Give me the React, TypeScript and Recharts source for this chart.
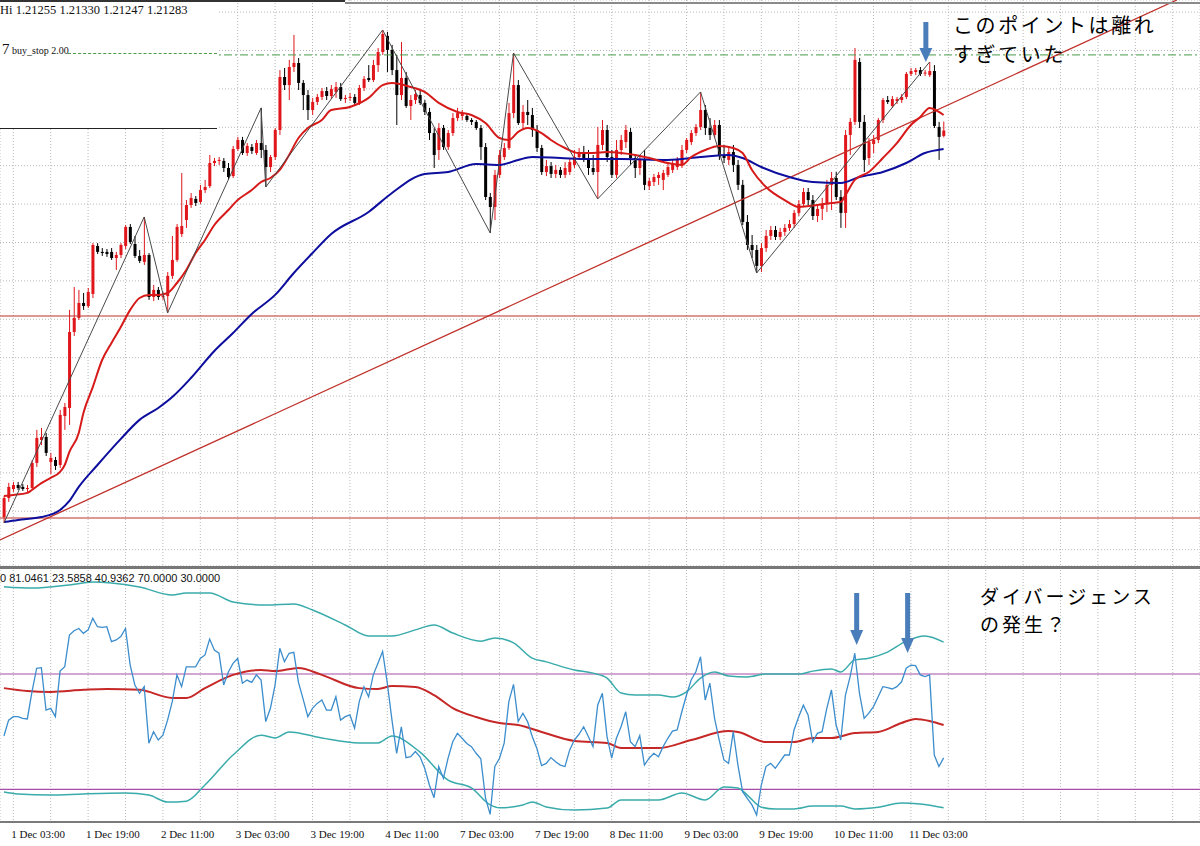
import React from 'react';
import { ComposedChart, Bar, Line, XAxis, YAxis, CartesianGrid, ReferenceLine, ReferenceDot } from 'recharts';

// ---- axis / scale values ----
const X_MIN = -0.845;
const X_MAX = 255.84;
const P_MIN = 1.19015;
const P_MAX = 1.21963;
const RSI_MIN = 18.67;
const RSI_MAX = 106.07;

const gridIdx = [2, 10, 18, 26, 34, 42, 50, 58, 66, 74, 82, 90, 98, 106, 114, 122, 130, 138, 146, 154, 162, 170, 178, 186, 194, 202, 210, 218, 226, 234, 242, 250];
const gridPrices = [1.219, 1.217, 1.215, 1.213, 1.211, 1.209, 1.207, 1.205, 1.203, 1.201, 1.199, 1.197, 1.195, 1.193, 1.191];
const labelIdx = [2, 18, 34, 50, 66, 82, 98, 114, 130, 146, 162, 178, 194];
const xLabels = ['1 Dec 03:00', '1 Dec 19:00', '2 Dec 11:00', '3 Dec 03:00', '3 Dec 19:00', '4 Dec 11:00', '7 Dec 03:00', '7 Dec 19:00', '8 Dec 11:00', '9 Dec 03:00', '9 Dec 19:00', '10 Dec 11:00', '11 Dec 03:00'];

// ---- EURUSD H1 candles [open, high, low, close] ----
const candles: number[][] = [
  [1.19270, 1.19380, 1.19239, 1.19369], [1.19369, 1.19448, 1.19349, 1.19427], [1.19416, 1.19453, 1.19401, 1.19437], [1.19437, 1.19453, 1.19411, 1.19421],
  [1.19427, 1.19442, 1.19406, 1.19416], [1.19416, 1.19437, 1.19401, 1.19421], [1.19421, 1.19567, 1.19411, 1.19552], [1.19552, 1.19724, 1.19531, 1.19682],
  [1.19671, 1.19734, 1.19645, 1.19687], [1.19687, 1.19708, 1.19588, 1.19604], [1.19557, 1.19604, 1.19494, 1.19578], [1.19567, 1.19583, 1.19515, 1.19536],
  [1.19541, 1.19828, 1.19526, 1.19802], [1.19796, 1.19864, 1.19724, 1.19843], [1.19838, 1.20349, 1.19750, 1.20234], [1.20234, 1.20468, 1.20213, 1.20307],
  [1.20307, 1.20453, 1.20296, 1.20385], [1.20385, 1.20437, 1.20349, 1.20369], [1.20369, 1.20463, 1.20359, 1.20442], [1.20432, 1.20697, 1.20411, 1.20687],
  [1.20682, 1.20697, 1.20640, 1.20651], [1.20651, 1.20671, 1.20630, 1.20645], [1.20651, 1.20666, 1.20625, 1.20640], [1.20651, 1.20671, 1.20609, 1.20619],
  [1.20619, 1.20651, 1.20557, 1.20635], [1.20635, 1.20697, 1.20619, 1.20687], [1.20682, 1.20791, 1.20666, 1.20781], [1.20781, 1.20796, 1.20692, 1.20703],
  [1.20692, 1.20734, 1.20619, 1.20630], [1.20630, 1.20661, 1.20593, 1.20604], [1.20599, 1.20833, 1.20583, 1.20635], [1.20635, 1.20645, 1.20401, 1.20416],
  [1.20416, 1.20479, 1.20395, 1.20453], [1.20453, 1.20468, 1.20401, 1.20416], [1.20416, 1.20442, 1.20401, 1.20421], [1.20421, 1.20546, 1.20333, 1.20526],
  [1.20526, 1.20734, 1.20510, 1.20609], [1.20609, 1.20796, 1.20599, 1.20781], [1.20744, 1.21062, 1.20729, 1.20786], [1.20817, 1.20921, 1.20776, 1.20895],
  [1.20895, 1.20958, 1.20880, 1.20932], [1.20927, 1.20942, 1.20890, 1.20906], [1.20911, 1.21000, 1.20901, 1.20973], [1.20973, 1.21026, 1.20958, 1.20989],
  [1.20994, 1.21156, 1.20984, 1.21114], [1.21114, 1.21140, 1.21098, 1.21125], [1.21125, 1.21145, 1.21104, 1.21130], [1.21125, 1.21140, 1.21067, 1.21088],
  [1.21088, 1.21114, 1.21026, 1.21041], [1.21046, 1.21203, 1.21036, 1.21187], [1.21187, 1.21250, 1.21177, 1.21234], [1.21234, 1.21250, 1.21156, 1.21166],
  [1.21166, 1.21218, 1.21151, 1.21203], [1.21197, 1.21213, 1.21161, 1.21177], [1.21166, 1.21234, 1.21156, 1.21218], [1.21218, 1.21401, 1.21140, 1.21182],
  [1.21182, 1.21208, 1.20989, 1.21093], [1.21093, 1.21156, 1.21067, 1.21145], [1.21145, 1.21296, 1.21130, 1.21286], [1.21286, 1.21598, 1.21260, 1.21562],
  [1.21562, 1.21609, 1.21494, 1.21520], [1.21520, 1.21651, 1.21442, 1.21614], [1.21614, 1.21781, 1.21588, 1.21635], [1.21635, 1.21661, 1.21494, 1.21531],
  [1.21531, 1.21546, 1.21390, 1.21468], [1.21468, 1.21494, 1.21338, 1.21390], [1.21390, 1.21453, 1.21364, 1.21432], [1.21432, 1.21473, 1.21416, 1.21458],
  [1.21458, 1.21505, 1.21442, 1.21489], [1.21489, 1.21510, 1.21442, 1.21463], [1.21463, 1.21520, 1.21447, 1.21499], [1.21484, 1.21536, 1.21453, 1.21510],
  [1.21510, 1.21531, 1.21437, 1.21447], [1.21447, 1.21468, 1.21427, 1.21453], [1.21453, 1.21479, 1.21437, 1.21458], [1.21458, 1.21473, 1.21416, 1.21427],
  [1.21427, 1.21520, 1.21416, 1.21505], [1.21505, 1.21567, 1.21489, 1.21552], [1.21557, 1.21624, 1.21536, 1.21546], [1.21546, 1.21651, 1.21536, 1.21624],
  [1.21624, 1.21713, 1.21588, 1.21692], [1.21692, 1.21807, 1.21677, 1.21786], [1.21776, 1.21797, 1.21588, 1.21703], [1.21703, 1.21729, 1.21572, 1.21598],
  [1.21598, 1.21677, 1.21312, 1.21468], [1.21468, 1.21744, 1.21442, 1.21557], [1.21557, 1.21588, 1.21401, 1.21411], [1.21411, 1.21468, 1.21338, 1.21442],
  [1.21442, 1.21494, 1.21421, 1.21473], [1.21468, 1.21494, 1.21416, 1.21427], [1.21427, 1.21442, 1.21364, 1.21380], [1.21380, 1.21401, 1.21234, 1.21270],
  [1.21270, 1.21296, 1.21088, 1.21156], [1.21182, 1.21322, 1.21130, 1.21296], [1.21296, 1.21312, 1.21182, 1.21197], [1.21197, 1.21286, 1.21182, 1.21270],
  [1.21270, 1.21374, 1.21255, 1.21348], [1.21348, 1.21401, 1.21333, 1.21374], [1.21359, 1.21390, 1.21338, 1.21369], [1.21359, 1.21369, 1.21328, 1.21338],
  [1.21338, 1.21348, 1.21312, 1.21328], [1.21328, 1.21338, 1.21286, 1.21296], [1.21296, 1.21312, 1.21130, 1.21197], [1.21197, 1.21218, 1.20921, 1.20937],
  [1.20937, 1.20958, 1.20750, 1.20885], [1.20885, 1.21078, 1.20817, 1.21052], [1.21052, 1.21182, 1.21036, 1.21156], [1.21145, 1.21218, 1.21130, 1.21192],
  [1.21192, 1.21427, 1.21182, 1.21374], [1.21374, 1.21687, 1.21348, 1.21520], [1.21520, 1.21546, 1.21312, 1.21322], [1.21322, 1.21416, 1.21286, 1.21380],
  [1.21380, 1.21442, 1.21312, 1.21364], [1.21364, 1.21401, 1.21250, 1.21286], [1.21286, 1.21312, 1.21171, 1.21192], [1.21192, 1.21208, 1.21052, 1.21067],
  [1.21067, 1.21130, 1.21046, 1.21098], [1.21098, 1.21119, 1.21036, 1.21057], [1.21057, 1.21104, 1.21036, 1.21078], [1.21078, 1.21093, 1.21036, 1.21052],
  [1.21052, 1.21119, 1.21036, 1.21088], [1.21067, 1.21140, 1.21052, 1.21119], [1.21104, 1.21182, 1.21088, 1.21145], [1.21145, 1.21192, 1.21130, 1.21171],
  [1.21171, 1.21203, 1.21119, 1.21140], [1.21140, 1.21182, 1.21052, 1.21088], [1.21088, 1.21156, 1.21052, 1.21067], [1.21067, 1.21302, 1.20927, 1.21208],
  [1.21208, 1.21338, 1.21182, 1.21286], [1.21286, 1.21312, 1.21119, 1.21145], [1.21145, 1.21182, 1.21036, 1.21052], [1.21052, 1.21234, 1.21036, 1.21182],
  [1.21182, 1.21260, 1.21156, 1.21234], [1.21223, 1.21312, 1.21192, 1.21286], [1.21276, 1.21296, 1.21104, 1.21140], [1.21140, 1.21156, 1.21036, 1.21088],
  [1.21088, 1.21156, 1.21052, 1.21130], [1.21130, 1.21182, 1.20973, 1.21000], [1.20994, 1.21036, 1.20973, 1.21020], [1.21015, 1.21057, 1.20994, 1.21041],
  [1.21036, 1.21067, 1.21000, 1.21052], [1.21026, 1.21078, 1.20973, 1.21062], [1.21052, 1.21114, 1.21041, 1.21093], [1.21078, 1.21130, 1.21062, 1.21114],
  [1.21093, 1.21145, 1.21078, 1.21130], [1.21104, 1.21208, 1.21088, 1.21182], [1.21182, 1.21244, 1.21166, 1.21234], [1.21223, 1.21286, 1.21208, 1.21270],
  [1.21270, 1.21317, 1.21255, 1.21302], [1.21302, 1.21484, 1.21286, 1.21390], [1.21390, 1.21416, 1.21260, 1.21296], [1.21296, 1.21348, 1.21234, 1.21260],
  [1.21260, 1.21338, 1.21244, 1.21312], [1.21312, 1.21338, 1.21130, 1.21156], [1.21156, 1.21208, 1.21114, 1.21140], [1.21130, 1.21192, 1.21104, 1.21171],
  [1.21171, 1.21208, 1.21067, 1.21104], [1.21104, 1.21130, 1.20973, 1.21000], [1.21000, 1.21026, 1.20791, 1.20807], [1.20807, 1.20843, 1.20661, 1.20687],
  [1.20687, 1.20739, 1.20619, 1.20661], [1.20661, 1.20687, 1.20541, 1.20578], [1.20578, 1.20697, 1.20546, 1.20671], [1.20671, 1.20765, 1.20651, 1.20734],
  [1.20734, 1.20786, 1.20713, 1.20765], [1.20765, 1.20786, 1.20713, 1.20729], [1.20729, 1.20776, 1.20713, 1.20755], [1.20755, 1.20796, 1.20734, 1.20776],
  [1.20776, 1.20817, 1.20760, 1.20796], [1.20796, 1.20869, 1.20776, 1.20854], [1.20854, 1.20921, 1.20838, 1.20901], [1.20901, 1.20984, 1.20890, 1.20963],
  [1.20963, 1.20984, 1.20895, 1.20921], [1.20921, 1.20947, 1.20817, 1.20838], [1.20838, 1.20895, 1.20807, 1.20875], [1.20875, 1.20932, 1.20817, 1.20901],
  [1.20901, 1.21026, 1.20859, 1.21000], [1.21000, 1.21067, 1.20869, 1.21036], [1.21036, 1.21067, 1.20921, 1.20937], [1.20937, 1.20973, 1.20776, 1.20854],
  [1.20854, 1.21286, 1.20776, 1.21260], [1.21260, 1.21348, 1.21156, 1.21328], [1.21328, 1.21713, 1.21312, 1.21651], [1.21640, 1.21661, 1.21296, 1.21328],
  [1.21328, 1.21364, 1.21067, 1.21130], [1.21140, 1.21244, 1.21104, 1.21223], [1.21213, 1.21260, 1.21166, 1.21234], [1.21234, 1.21348, 1.21218, 1.21338],
  [1.21338, 1.21453, 1.21322, 1.21442], [1.21442, 1.21463, 1.21421, 1.21432], [1.21411, 1.21463, 1.21401, 1.21447], [1.21437, 1.21458, 1.21421, 1.21447],
  [1.21442, 1.21473, 1.21427, 1.21458], [1.21458, 1.21588, 1.21447, 1.21578], [1.21578, 1.21609, 1.21567, 1.21593], [1.21588, 1.21609, 1.21572, 1.21598],
  [1.21598, 1.21614, 1.21567, 1.21578], [1.21583, 1.21598, 1.21567, 1.21585], [1.21572, 1.21640, 1.21562, 1.21593], [1.21593, 1.21624, 1.21296, 1.21307],
  [1.21302, 1.21328, 1.21130, 1.21250], [1.21255, 1.21330, 1.21247, 1.21283],
];

// ---- moving averages on price [candle index, price] ----
const fastMa: number[][] = [
  [0, 1.19380], [2, 1.19385], [5, 1.19396], [6, 1.19411], [8, 1.19447], [10, 1.19474], [12, 1.19505], [13, 1.19541], [14, 1.19609], [16, 1.19708],
  [17, 1.19812], [19, 1.19947], [21, 1.20088], [23, 1.20177], [25, 1.20260], [27, 1.20349], [29, 1.20411], [31, 1.20427], [33, 1.20427], [35, 1.20437],
  [37, 1.20489], [39, 1.20557], [41, 1.20645], [43, 1.20713], [45, 1.20791], [48, 1.20869], [50, 1.20921], [53, 1.20973], [55, 1.21015], [57, 1.21036],
  [59, 1.21078], [61, 1.21156], [63, 1.21244], [65, 1.21296], [68, 1.21338], [70, 1.21390], [74, 1.21406], [78, 1.21453], [81, 1.21520], [83, 1.21531],
  [87, 1.21510], [90, 1.21484], [93, 1.21427], [97, 1.21380], [100, 1.21364], [103, 1.21322], [106, 1.21244], [108, 1.21234], [110, 1.21276], [112, 1.21296],
  [115, 1.21270], [117, 1.21234], [120, 1.21192], [123, 1.21166], [126, 1.21166], [129, 1.21171], [132, 1.21166], [135, 1.21156], [138, 1.21140], [142, 1.21114],
  [145, 1.21104], [147, 1.21145], [150, 1.21182], [153, 1.21203], [156, 1.21192], [158, 1.21166], [160, 1.21078], [163, 1.20989], [167, 1.20921], [170, 1.20885],
  [174, 1.20895], [177, 1.20906], [179, 1.20911], [180, 1.20947], [182, 1.21026], [185, 1.21067], [188, 1.21140], [191, 1.21218], [194, 1.21312], [196, 1.21354],
  [198, 1.21401], [200, 1.21380], [201, 1.21364],
];
const slowMa: number[][] = [
  [0, 1.19244], [3, 1.19255], [8, 1.19270], [12, 1.19307], [14, 1.19354], [16, 1.19427], [20, 1.19541], [25, 1.19677], [29, 1.19776], [33, 1.19838],
  [36, 1.19895], [40, 1.19994], [45, 1.20135], [49, 1.20229], [53, 1.20328], [58, 1.20427], [62, 1.20541], [66, 1.20645], [70, 1.20744], [78, 1.20859],
  [83, 1.20958], [90, 1.21057], [95, 1.21067], [101, 1.21109], [106, 1.21104], [110, 1.21130], [113, 1.21145], [119, 1.21140], [125, 1.21135], [132, 1.21135],
  [142, 1.21130], [149, 1.21145], [155, 1.21156], [158, 1.21140], [162, 1.21093], [168, 1.21041], [173, 1.21015], [179, 1.21010], [183, 1.21041], [188, 1.21067],
  [193, 1.21114], [197, 1.21166], [201, 1.21187],
];
const zigzag: number[][] = [
  [0, 1.19239], [30, 1.20833], [35, 1.20333], [55, 1.21401], [56, 1.20989], [81, 1.21807], [104, 1.20750], [109, 1.21687], [127, 1.20927], [149, 1.21484],
  [161, 1.20541], [198, 1.21640],
];
const supportHigh = 1.20317;
const supportLow = 1.19265;
const buyStopPrice = 1.21677;
const trendStart = [-0.845, 1.19151];
const trendEnd = [250.9, 1.21963];

// ---- RSI panel ----
const rsiValues = [
  48.5, 54.0, 55.2, 55.2, 54.6, 54.4, 63.9, 72.0, 72.2, 57.5, 58.1, 55.2, 71.0, 72.5, 83.5, 85.0, 85.8, 84.1, 85.3, 89.3,
  86.4, 86.2, 86.4, 81.2, 81.8, 83.0, 85.8, 73.1, 66.2, 63.3, 65.6, 46.0, 50.0, 47.1, 48.8, 54.0, 60.4, 69.7, 65.6, 72.5,
  72.5, 72.5, 75.4, 76.6, 82.1, 78.3, 77.2, 66.2, 70.7, 73.7, 75.4, 66.8, 67.9, 67.1, 69.7, 67.9, 53.5, 58.1, 66.2, 78.9,
  74.3, 77.2, 77.5, 67.1, 61.3, 55.2, 58.1, 59.8, 61.0, 57.5, 57.5, 62.1, 54.0, 55.2, 55.8, 51.2, 60.4, 65.6, 62.1, 69.7,
  73.7, 77.8, 66.8, 54.0, 42.5, 51.7, 41.0, 41.3, 43.1, 41.3, 37.3, 31.5, 27.1, 37.9, 33.8, 40.8, 46.5, 49.4, 47.7, 45.9,
  44.8, 42.5, 40.6, 27.0, 21.3, 37.9, 40.8, 46.0, 60.4, 66.4, 53.5, 56.4, 53.5, 48.3, 44.2, 38.2, 39.0, 41.0, 39.6, 38.4,
  37.9, 43.6, 47.1, 49.1, 51.7, 48.3, 44.8, 59.2, 63.3, 48.3, 40.8, 47.7, 51.7, 56.9, 46.5, 44.8, 48.6, 38.4, 40.8, 42.5,
  41.3, 44.8, 47.7, 50.2, 50.6, 56.9, 62.7, 67.9, 70.8, 76.0, 61.0, 66.8, 54.6, 47.1, 40.2, 39.0, 50.0, 38.4, 29.2, 26.9,
  24.6, 21.1, 31.5, 37.9, 39.0, 37.3, 39.6, 41.9, 41.9, 50.6, 55.2, 59.2, 55.8, 46.5, 49.4, 50.0, 58.0, 64.5, 52.3, 47.1,
  62.7, 69.1, 77.2, 63.3, 54.6, 56.4, 58.7, 62.1, 65.6, 65.3, 64.8, 65.6, 67.3, 72.0, 73.1, 72.9, 69.7, 69.1, 69.7, 41.9,
  37.9, 40.9,
];
const upperBand: number[][] = [
  [0, 100.3], [6, 99.8], [14, 100.9], [19, 101.9], [23, 101.6], [29, 100.2], [36, 97.4], [39, 98.1], [44, 98.1], [49, 95.0],
  [56, 93.9], [62, 94.3], [66, 92.2], [73, 87.0], [78, 83.2], [83, 83.2], [88, 85.3], [92, 87.0], [96, 84.2], [102, 81.4],
  [105, 82.5], [109, 80.8], [113, 75.5], [116, 74.2], [122, 71.4], [126, 70.3], [129, 68.6], [132, 63.4], [135, 62.7], [140, 62.7],
  [143, 62.0], [146, 63.8], [149, 68.6], [152, 70.7], [155, 69.3], [159, 69.0], [163, 70.0], [170, 70.0], [173, 71.0], [177, 71.7],
  [179, 70.7], [182, 74.9], [185, 75.5], [189, 77.6], [193, 81.4], [197, 83.2], [201, 81.05],
];
const lowerBand: number[][] = [
  [0, 29.1], [3, 28.4], [10, 28.0], [17, 28.4], [26, 28.7], [31, 28.0], [35, 25.6], [39, 25.9], [43, 31.5], [49, 41.9],
  [55, 48.8], [58, 47.8], [61, 49.9], [68, 47.8], [76, 46.1], [80, 46.1], [83, 48.5], [89, 42.9], [95, 33.2], [100, 30.5],
  [104, 24.6], [106, 23.6], [111, 24.6], [113, 25.6], [116, 23.9], [122, 22.8], [129, 23.5], [132, 26.3], [140, 26.3], [145, 28.7],
  [150, 26.3], [154, 30.8], [157, 30.5], [159, 28.0], [162, 23.8], [165, 23.2], [169, 23.2], [173, 24.2], [179, 24.2], [182, 23.2],
  [187, 23.8], [192, 25.3], [196, 24.9], [201, 23.59],
];
const middleBand: number[][] = [
  [0, 65.1], [5, 64.1], [10, 63.8], [17, 64.5], [22, 64.8], [29, 64.5], [36, 61.7], [39, 61.7], [43, 65.1], [49, 69.7],
  [55, 71.4], [58, 71.0], [63, 72.1], [68, 69.7], [76, 65.1], [80, 64.8], [83, 65.8], [88, 65.5], [92, 62.7], [96, 58.2],
  [101, 55.1], [106, 53.0], [110, 52.3], [115, 49.9], [122, 46.8], [129, 46.1], [132, 44.3], [140, 44.3], [147, 47.1], [155, 50.2],
  [157, 49.9], [163, 46.4], [169, 46.4], [173, 47.8], [177, 47.8], [182, 49.5], [187, 49.9], [192, 53.0], [195, 54.4], [198, 53.7],
  [201, 52.3],
];
const rsiLevels = [70, 30];

// ---- annotation anchors [candle index, value] ----
const priceArrow = [197.2, 1.2164];
const rsiArrows = [[182.4, 80.1], [193.3, 77.3]];
const noteTop = ['このポイントは離れ', 'すぎていた'];
const noteBottom = ['ダイバージェンス', 'の発生？'];

// ---- derived tables ----
const candleData = candles.map(([o, h, l, c], i) => ({ i, open: o, high: h, low: l, close: c, range: [l, h], rsi: rsiValues[i] }));
const toRows = (arr: number[][]) => arr.map(([i, v]) => ({ i, v }));

const Candle = (props: any) => {
  const { x, y, width, height, payload } = props;
  if (x == null || y == null || !payload) return <g />;
  const top = Math.min(y, y + height);
  const h = Math.abs(height);
  const cx = x + width / 2;
  const span = payload.high - payload.low;
  const k = span > 0 ? h / span : 0;
  const py = (p: number) => top + (payload.high - p) * k;
  const bull = payload.close >= payload.open;
  const color = bull ? '#e0161b' : '#000000';
  const bTop = py(Math.max(payload.open, payload.close));
  const bBot = py(Math.min(payload.open, payload.close));
  return (
    <g>
      <line x1={cx} x2={cx} y1={top} y2={top + Math.max(h, 1)} stroke={color} strokeWidth={1} />
      <rect x={cx - 1.5} y={bTop} width={3} height={Math.max(bBot - bTop, 1)} fill={color} />
    </g>
  );
};

const makeArrow = (len: number, shaftW: number, headW: number, headH: number) => (props: any) => {
  const { cx, cy } = props;
  if (cx == null || cy == null) return <g />;
  const pts = [
    [cx - shaftW / 2, cy - len], [cx + shaftW / 2, cy - len], [cx + shaftW / 2, cy - headH], [cx + headW / 2, cy - headH],
    [cx, cy], [cx - headW / 2, cy - headH], [cx - shaftW / 2, cy - headH],
  ].map((p) => p.join(',')).join(' ');
  return <polygon points={pts} fill="#4a7ebb" />;
};

const XTick = (props: any) => {
  const { x, y, payload } = props;
  const k = labelIdx.indexOf(payload.value);
  if (k < 0) return <g />;
  return (
    <text x={x - 2} y={y} dy="0.71em" textAnchor="start" fontSize={11} fontFamily="'Liberation Serif', 'DejaVu Serif', serif" fill="#111">
      {xLabels[k]}
    </text>
  );
};

const serif = "'Liberation Serif', 'DejaVu Serif', serif";
const sans = "'Liberation Sans', Arial, sans-serif";
const jp = "'Noto Sans CJK JP', 'Noto Sans CJK SC', sans-serif";

const noteLine = (text: string, left: number, top: number, size: number, spacing: number, lh: number) => (
  <div
    key={text}
    style={{ position: 'absolute', left, top, height: lh, fontFamily: jp, fontSize: size, lineHeight: `${lh}px`, letterSpacing: spacing, color: '#000', whiteSpace: 'nowrap' }}
  >
    {text}
  </div>
);

export default function App() {
  return (
    <div style={{ position: 'absolute', left: 0, top: 0, width: 1200, height: 846, background: '#ffffff', overflow: 'hidden' }}>
      {/* price panel */}
      <div style={{ position: 'absolute', left: 0, top: 0 }}>
        <ComposedChart width={1200} height={566} data={candleData} margin={{ top: 0, right: 0, bottom: 0, left: 0 }}>
          <CartesianGrid stroke="#b8b8b8" strokeDasharray="1 2" />
          <XAxis dataKey="i" type="number" domain={[X_MIN, X_MAX]} allowDataOverflow ticks={gridIdx} interval={0} hide />
          <YAxis type="number" domain={[P_MIN, P_MAX]} allowDataOverflow ticks={gridPrices} interval={0} hide />
          <ReferenceLine y={supportHigh} stroke="#c0302a" strokeWidth={1.2} />
          <ReferenceLine y={supportLow} stroke="#c0302a" strokeWidth={1.2} />
          <ReferenceLine y={buyStopPrice} stroke="#4a9a4a" strokeWidth={1} strokeDasharray="8 3 2 3" />
          <ReferenceLine
            segment={[{ x: trendStart[0], y: trendStart[1] }, { x: trendEnd[0], y: trendEnd[1] }]}
            stroke="#c0302a"
            strokeWidth={1.3}
            ifOverflow="visible"
          />
          <Bar dataKey="range" barSize={3} shape={Candle} isAnimationActive={false} />
          <Line data={toRows(slowMa)} dataKey="v" type="monotone" stroke="#0d0d9e" strokeWidth={2} dot={false} activeDot={false} isAnimationActive={false} />
          <Line data={toRows(fastMa)} dataKey="v" type="monotone" stroke="#d61a1a" strokeWidth={2} dot={false} activeDot={false} isAnimationActive={false} />
          <Line data={toRows(zigzag)} dataKey="v" type="linear" stroke="#4a4a4a" strokeWidth={1} dot={false} activeDot={false} isAnimationActive={false} />
          <ReferenceDot x={priceArrow[0]} y={priceArrow[1]} shape={makeArrow(40, 5, 13, 14)} ifOverflow="visible" />
        </ComposedChart>
      </div>

      {/* RSI panel */}
      <div style={{ position: 'absolute', left: 0, top: 570 }}>
        <ComposedChart width={1200} height={276} data={candleData} margin={{ top: 0, right: 0, bottom: 0, left: 0 }}>
          <CartesianGrid horizontal={false} stroke="#b8b8b8" strokeDasharray="1 2" />
          <XAxis
            dataKey="i"
            type="number"
            domain={[X_MIN, X_MAX]}
            allowDataOverflow
            ticks={gridIdx}
            interval={0}
            height={24}
            axisLine={{ stroke: '#7a7a7a', strokeWidth: 2 }}
            tickLine={false}
            tick={XTick}
          />
          <YAxis type="number" domain={[RSI_MIN, RSI_MAX]} allowDataOverflow hide />
          {rsiLevels.map((lv) => (
            <ReferenceLine key={lv} y={lv} stroke="#a64ca6" strokeWidth={1.2} />
          ))}
          <Line data={toRows(upperBand)} dataKey="v" type="monotone" stroke="#3aabab" strokeWidth={1.5} dot={false} activeDot={false} isAnimationActive={false} />
          <Line data={toRows(lowerBand)} dataKey="v" type="monotone" stroke="#3aabab" strokeWidth={1.5} dot={false} activeDot={false} isAnimationActive={false} />
          <Line data={toRows(middleBand)} dataKey="v" type="monotone" stroke="#c62828" strokeWidth={2} dot={false} activeDot={false} isAnimationActive={false} />
          <Line dataKey="rsi" type="linear" stroke="#3c8dcc" strokeWidth={1.3} dot={false} activeDot={false} isAnimationActive={false} />
          {rsiArrows.map(([ai, av], k) => (
            <ReferenceDot key={k} x={ai} y={av} shape={makeArrow(k === 0 ? 52 : 60, 5, 13, 15)} ifOverflow="visible" />
          ))}
        </ComposedChart>
      </div>

      {/* frame lines */}
      <div style={{ position: 'absolute', left: 0, top: 0, width: 345, height: 2, background: '#333' }} />
      <div style={{ position: 'absolute', left: 345, top: 2, width: 855, height: 2, background: '#8a8a8a' }} />
      <div style={{ position: 'absolute', left: 0, top: 566, width: 1200, height: 3, background: '#777' }} />

      {/* overlay box top-left */}
      <div style={{ position: 'absolute', left: 0, top: 2, width: 217, height: 126, background: '#fff', borderBottom: '1px solid #222' }}>
        <div style={{ position: 'absolute', left: 0, top: 1, fontFamily: serif, fontSize: 12.5, color: '#111', whiteSpace: 'nowrap' }}>
          Hi 1.21255 1.21330 1.21247 1.21283
        </div>
        <div style={{ position: 'absolute', left: 2, top: 38, fontFamily: serif, color: '#111', whiteSpace: 'nowrap' }}>
          <span style={{ fontSize: 15 }}>7</span>
          <span style={{ fontSize: 10 }}> buy_stop 2.00</span>
        </div>
        <div style={{ position: 'absolute', left: 68, top: 51, width: 149, borderTop: '1px dashed #4a9a4a' }} />
      </div>

      {/* RSI header */}
      <div style={{ position: 'absolute', left: 0, top: 572, fontFamily: sans, fontSize: 11, color: '#111', whiteSpace: 'nowrap' }}>
        0 81.0461 23.5858 40.9362 70.0000 30.0000
      </div>

      {/* annotations */}
      {noteLine(noteTop[0], 953, 10, 20, 2.6, 29)}
      {noteLine(noteTop[1], 953, 39, 20, 2.6, 29)}
      {noteLine(noteBottom[0], 980, 582, 19, 3, 27.5)}
      {noteLine(noteBottom[1], 980, 609.5, 19, 3, 27.5)}
    </div>
  );
}
